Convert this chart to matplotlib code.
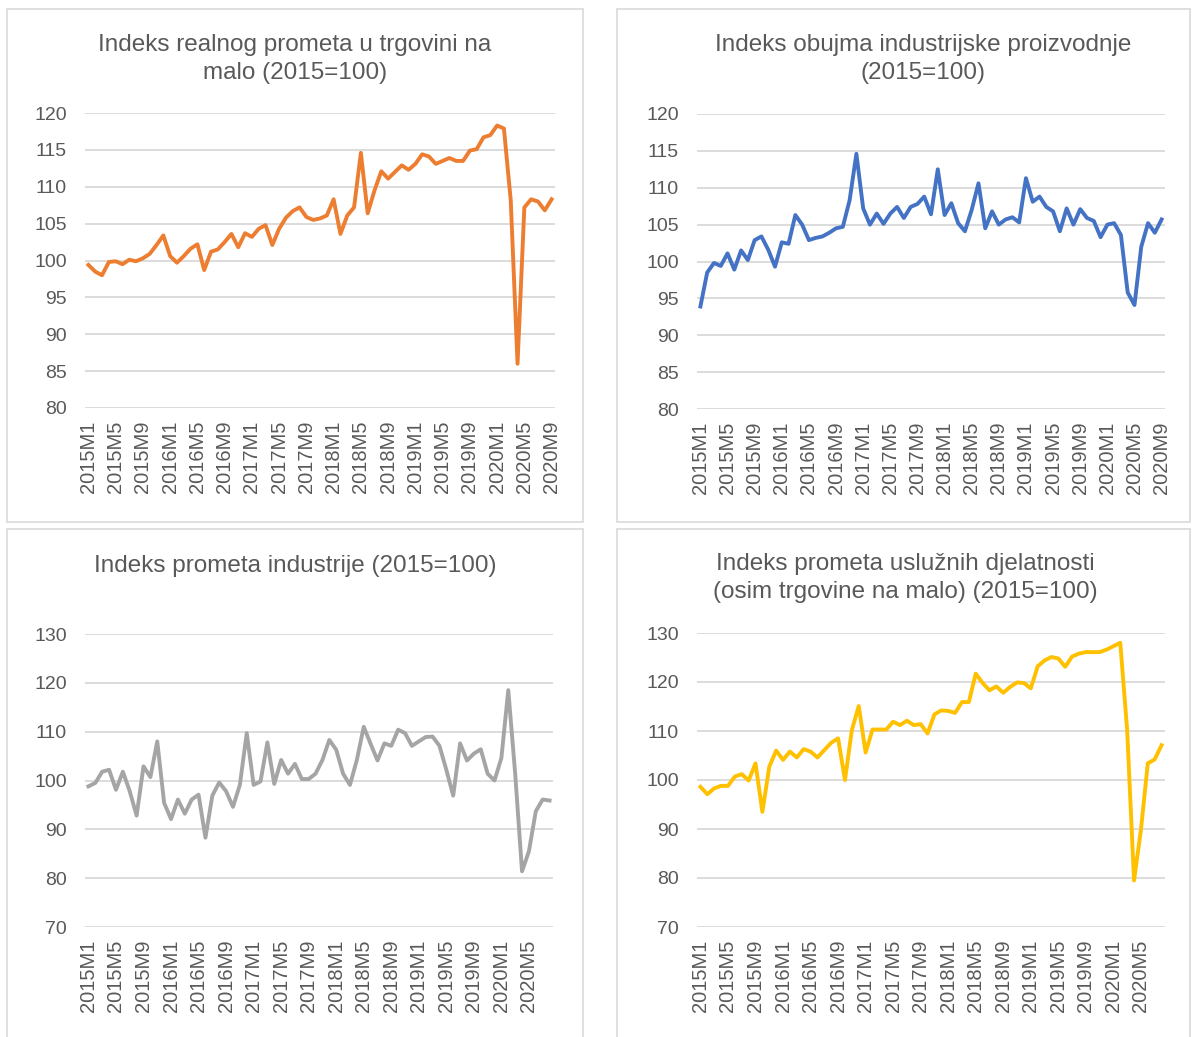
import numpy as np
import matplotlib.pyplot as plt
from matplotlib.patches import Rectangle

plt.rcParams['font.family'] = ['Liberation Sans', 'DejaVu Sans']

W, H = 1194, 1037

# category labels: 2015M1 ... 2020M9
months = [f"{y}M{m}" for y in range(2015, 2021) for m in range(1, 13)]
months_top = months[:69]      # to 2020M9
months_bottom = months[:68]   # to 2020M8

retail = [99.4, 98.5, 98.0, 99.8, 99.9, 99.5, 100.1, 99.9, 100.3, 100.9, 102.1, 103.4,
          100.6, 99.7, 100.6, 101.6, 102.2, 98.7, 101.2, 101.5, 102.5, 103.6, 101.8, 103.7,
          103.2, 104.3, 104.8, 102.1, 104.3, 105.8, 106.7, 107.2, 105.9, 105.5, 105.7, 106.1,
          108.3, 103.6, 106.1, 107.2, 114.6, 106.4, 109.5, 112.1, 111.1, 112.0, 112.9, 112.3,
          113.1, 114.4, 114.1, 113.1, 113.5, 113.9, 113.5, 113.5, 114.9, 115.1, 116.7, 117.0,
          118.3, 117.9, 108.2, 86.0, 107.2, 108.3, 108.0, 106.8, 108.3]

industry_prod = [93.9, 98.5, 99.8, 99.4, 101.1, 98.9, 101.5, 100.2, 102.9, 103.4, 101.6, 99.3,
                 102.6, 102.4, 106.3, 105.0, 102.9, 103.2, 103.4, 103.9, 104.5, 104.7, 108.3, 114.6,
                 107.2, 105.0, 106.5, 105.1, 106.5, 107.4, 105.9, 107.4, 107.8, 108.8, 106.4, 112.5,
                 106.3, 107.9, 105.2, 104.1, 107.0, 110.6, 104.5, 106.8, 105.0, 105.7, 106.0, 105.3,
                 111.3, 108.1, 108.8, 107.4, 106.8, 104.1, 107.2, 105.0, 107.1, 105.9, 105.5, 103.3,
                 105.0, 105.2, 103.6, 95.8, 94.1, 102.0, 105.2, 103.9, 105.7]

industry_turnover = [98.8, 99.5, 101.8, 102.2, 98.1, 101.8, 97.8, 92.8, 102.9, 100.7, 108.0, 95.4,
                     92.1, 96.1, 93.2, 96.1, 97.1, 88.3, 96.9, 99.6, 97.8, 94.6, 99.1, 109.7,
                     99.1, 99.8, 107.8, 99.3, 104.2, 101.4, 103.4, 100.3, 100.3, 101.4, 104.2, 108.3,
                     106.3, 101.4, 99.1, 104.2, 111.0, 107.5, 104.1, 107.6, 107.1, 110.4, 109.7, 107.1,
                     108.0, 108.9, 109.0, 107.1, 102.2, 96.9, 107.6, 104.1, 105.5, 106.4, 101.4, 100.0,
                     104.6, 118.5, 101.5, 81.4, 85.5, 93.7, 96.1, 95.9]

services = [98.6, 97.1, 98.3, 98.8, 98.8, 100.7, 101.2, 99.9, 103.4, 93.5, 102.7, 106.0,
            104.1, 105.8, 104.6, 106.3, 105.8, 104.6, 106.1, 107.6, 108.5, 100.0, 110.2, 115.1,
            105.6, 110.3, 110.3, 110.3, 111.9, 111.2, 112.1, 111.2, 111.4, 109.5, 113.4, 114.2,
            114.1, 113.7, 115.9, 115.9, 121.7, 119.8, 118.3, 119.1, 117.8, 119.0, 119.9, 119.8,
            118.7, 123.2, 124.4, 125.1, 124.8, 123.1, 125.2, 125.8, 126.1, 126.1, 126.1, 126.6,
            127.3, 128.0, 110.2, 79.5, 89.8, 103.4, 104.2, 107.1]

titles = ["Indeks realnog prometa u trgovini na\nmalo (2015=100)",
          "Indeks obujma industrijske proizvodnje\n(2015=100)",
          "Indeks prometa industrije (2015=100)",
          "Indeks prometa uslužnih djelatnosti\n(osim trgovine na malo) (2015=100)"]

TXT = '#595959'
GRID = '#D9D9D9'

fig = plt.figure(figsize=(W / 100, H / 100), dpi=100)


def px_rect(x0, x1, yt, yb):
    return [x0 / W, 1 - yb / H, (x1 - x0) / W, (yb - yt) / H]


# panel frames
for (x0, y0, x1, y1) in [(7, 9, 583, 522), (617, 9, 1190, 522),
                         (7, 529, 583, 1045), (617, 529, 1190, 1045)]:
    fig.patches.append(Rectangle((x0 / W, 1 - y1 / H), (x1 - x0) / W, (y1 - y0) / H,
                                 transform=fig.transFigure, fill=False,
                                 edgecolor=GRID, linewidth=1.2))

panels = [
    (retail, months_top, '#ED7D31', (80, 120), 5, (85, 555, 113, 408), titles[0], (295, 59)),
    (industry_prod, months_top, '#4472C4', (80, 120), 5, (697, 1165, 114, 409), titles[1], (923, 59)),
    (industry_turnover, months_bottom, '#A5A5A5', (70, 130), 10, (85, 553, 634, 927), titles[2], (295, 566)),
    (services, months_bottom, '#FFC000', (70, 130), 10, (697, 1165, 633, 927), titles[3], (905, 578)),
]

for vals, cats, color, ylim, step, box, title, tpos in panels:
    ax = fig.add_axes(px_rect(*box))
    x = np.arange(len(vals))
    ax.plot(x, vals, color=color, linewidth=2.8, solid_joinstyle='round')
    ax.set_xlim(-0.5, len(vals) - 0.5)
    ax.set_ylim(*ylim)
    ax.set_yticks(np.arange(ylim[0], ylim[1] + 1, step))
    ax.set_xticks(x[::4])
    ax.set_xticklabels(cats[::4], rotation=90)
    ax.grid(axis='y', color=GRID, linewidth=1.3)
    ax.set_axisbelow(True)
    for s in ax.spines.values():
        s.set_visible(False)
    ax.tick_params(axis='y', length=0, pad=13, labelsize=14, labelcolor=TXT)
    ax.tick_params(axis='x', length=0, pad=9, labelsize=14.5, labelcolor=TXT)
    fig.text(tpos[0] / W, 1 - tpos[1] / H, title, ha='center', va='center',
             fontsize=17.5, color=TXT, linespacing=1.3)

fig.savefig('out.png', dpi=100)
